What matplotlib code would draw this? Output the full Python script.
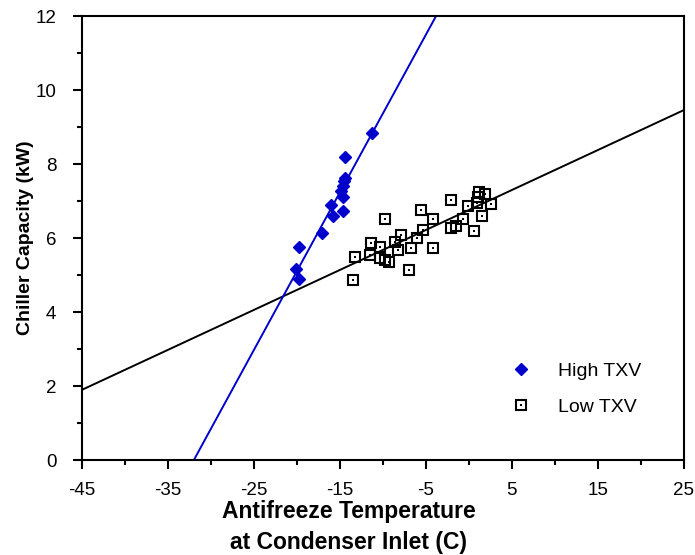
import numpy as np
import matplotlib.pyplot as plt
from matplotlib.legend_handler import HandlerTuple

plt.rcParams['font.family'] = ['Liberation Sans', 'DejaVu Sans']
plt.rcParams['axes.unicode_minus'] = False

# High TXV data (antifreeze temp C, capacity kW)
high_x = [-11.3, -14.4, -14.4, -14.5, -14.7, -14.9, -14.6, -16.0, -15.8, -14.7,
          -17.1, -19.8, -20.1, -19.8]
high_y = [8.83, 8.18, 7.63, 7.54, 7.41, 7.27, 7.12, 6.89, 6.61, 6.74,
          6.14, 5.77, 5.17, 4.89]

# Low TXV data
low_x = [-9.8, -5.6, -4.2, -2.1, -0.1, 1.2, 1.9, 2.6, 1.5, 0.6, -0.7, -1.5,
         -2.1, -4.2, -5.3, -6.0, -6.7, -7.9, -8.2, -8.6, -7.0, -10.4, -11.4,
         -11.5, -10.4, -9.8, -9.3, -13.3, -13.5, 0.9, 1.1]
low_y = [6.51, 6.76, 6.51, 7.03, 6.88, 7.25, 7.18, 6.92, 6.59, 6.19, 6.51, 6.32,
         6.28, 5.74, 6.23, 5.99, 5.74, 6.08, 5.68, 5.90, 5.15, 5.76, 5.87,
         5.54, 5.45, 5.42, 5.36, 5.48, 4.88, 6.95, 7.10]

# regression lines (slope, intercept)
high_fit = (0.426, 13.63)
low_fit = (0.108, 6.76)

fig = plt.figure(figsize=(6.95, 5.55), dpi=100)
ax = fig.add_axes([0.118, 0.171, 0.866, 0.800])

xs = np.array([-45, 25])
ax.plot(xs, low_fit[0] * xs + low_fit[1], color='black', lw=1.4, zorder=2)
xh = np.array([-high_fit[1] / high_fit[0], (12 - high_fit[1]) / high_fit[0] + 1])
ax.plot(xh, high_fit[0] * xh + high_fit[1], color='#0000CC', lw=1.4, zorder=2)

sq, = ax.plot(low_x, low_y, linestyle='none', marker='s', ms=7.5, mfc='none',
              mec='black', mew=1.5, zorder=3)
dot, = ax.plot(low_x, low_y, linestyle='none', marker='s', ms=1.5, mfc='black',
               mec='black', mew=0, zorder=3)
hi, = ax.plot(high_x, high_y, linestyle='none', marker='D', ms=6.5,
              color='#0000CC', zorder=4)

ax.set_xlim(-45, 25)
ax.set_ylim(0, 12)
ax.set_xticks(np.arange(-45, 26, 10))
ax.set_xticks(np.arange(-40, 25, 10), minor=True)
ax.set_yticks(np.arange(0, 13, 2))
ax.set_yticks(np.arange(1, 12, 2), minor=True)
ax.tick_params(which='major', direction='out', length=6.5, width=1.5,
               labelsize=13.5)
ax.tick_params(axis='x', which='major', pad=9)
ax.tick_params(axis='y', which='major', pad=12)
ax.tick_params(which='minor', direction='out', length=3.5, width=1.5)
for s in ax.spines.values():
    s.set_linewidth(1.5)

ax.set_xlabel('Antifreeze Temperature\nat Condenser Inlet (C)', fontsize=16.5,
              fontweight='bold', labelpad=0, linespacing=1.4)
ax.xaxis.set_label_coords(0.443, -0.091, transform=ax.transAxes)
ax.xaxis.label.set_va('top')
ax.set_ylabel('Chiller Capacity (kW)', fontsize=14, fontweight='bold',
              labelpad=1)

ax.legend([hi, (sq, dot)], ['High TXV', 'Low TXV'],
          handler_map={tuple: HandlerTuple(ndivide=1, pad=0)},
          loc='upper left', bbox_to_anchor=(0.714, 0.22), frameon=False,
          fontsize=14, handletextpad=1.36, labelspacing=0.95, handlelength=1.0,
          borderpad=0, borderaxespad=0)

fig.savefig('out.png', dpi=100)
